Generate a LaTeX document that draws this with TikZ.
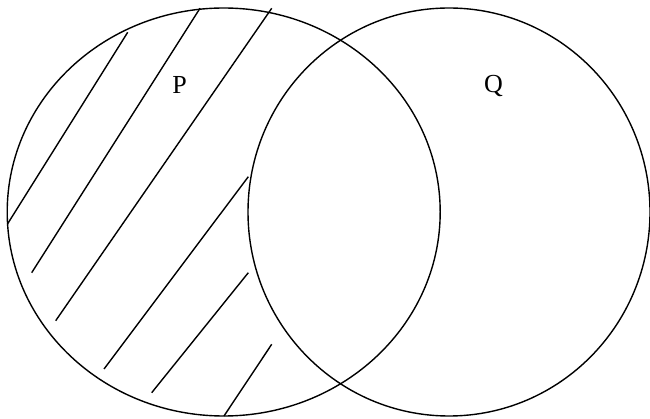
\documentclass[tikz,border=0pt]{standalone}
\usepackage{fontspec}
\setmainfont{Liberation Serif}

\begin{document}
\begin{tikzpicture}[x=1pt, y=-1pt, line width=1.4pt]
  % Venn diagram: P minus Q shaded by hatching
  \useasboundingbox (0,0) rectangle (650,419);

  % Set P
  \draw (223.7,212) ellipse [x radius=216.5, y radius=204];
  \node[font=\fontsize{26}{30}\selectfont] (labelP) at (179.5,85) {P};

  % Set Q
  \draw (449,212) ellipse [x radius=201, y radius=204];
  \node[font=\fontsize{26}{30}\selectfont] (labelQ) at (493.5,86) {Q};

  % Hatching in P only
  \draw (127.7,32.3) -- (7.5,224);
  \draw (200,8.3) -- (31.7,272.7);
  \draw (271.7,8.3) -- (55.7,320.7);
  \draw (248.3,176.7) -- (104,369);
  \draw (248.3,272.7) -- (151.7,392.7);
  \draw (271.7,344.3) -- (224,416);
\end{tikzpicture}
\end{document}
